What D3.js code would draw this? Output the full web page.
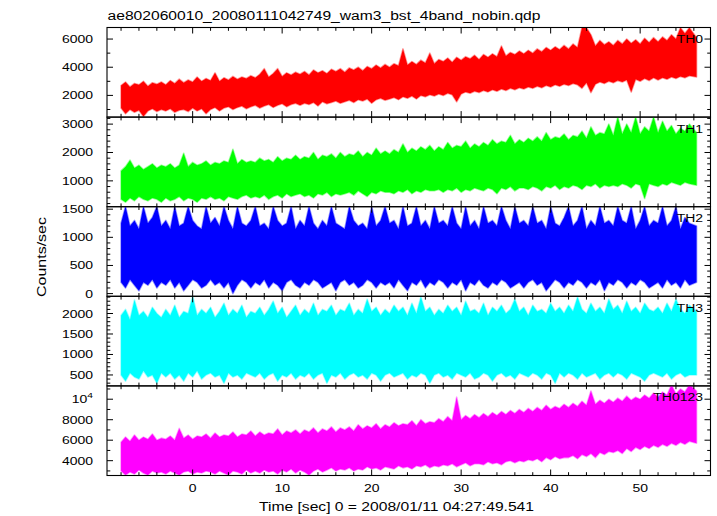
<!DOCTYPE html>
<html><head><meta charset="utf-8">
<script src="https://cdn.jsdelivr.net/npm/d3@7"></script>
<style>
body{margin:0;background:#fff}
svg{display:block}
text{font-family:"Liberation Sans",Arial,Helvetica,sans-serif;fill:#000}
</style>
</head><body>
<svg id="c" width="717" height="516"></svg>
<script>
const titleText = "ae802060010_20080111042749_wam3_bst_4band_nobin.qdp";
const xLabelText = "Time [sec] 0 = 2008/01/11 04:27:49.541";
const yLabelText = "Counts/sec";

const times = [
-8,-7.5,-7,-6.5,-6,-5.5,-5,-4.5,-4,-3.5,
-3,-2.5,-2,-1.5,-1,-0.5,0,0.5,1,1.5,
2,2.5,3,3.5,4,4.5,5,5.5,6,6.5,
7,7.5,8,8.5,9,9.5,10,10.5,11,11.5,
12,12.5,13,13.5,14,14.5,15,15.5,16,16.5,
17,17.5,18,18.5,19,19.5,20,20.5,21,21.5,
22,22.5,23,23.5,24,24.5,25,25.5,26,26.5,
27,27.5,28,28.5,29,29.5,30,30.5,31,31.5,
32,32.5,33,33.5,34,34.5,35,35.5,36,36.5,
37,37.5,38,38.5,39,39.5,40,40.5,41,41.5,
42,42.5,43,43.5,44,44.5,45,45.5,46,46.5,
47,47.5,48,48.5,49,49.5,50,50.5,51,51.5,
52,52.5,53,53.5,54,54.5,55,55.5,56.3];

const th0Hi = [
2700,2950,2600,2850,2750,3000,2650,2900,2800,2950,
2750,3050,2850,3150,2900,3100,2950,3300,3000,3200,
3050,3600,3000,3250,3100,3350,3150,3300,3200,3400,
3250,3500,3900,3300,3550,3900,3350,3600,3450,3650,
3500,3700,3450,3800,3600,3750,3550,3850,3700,3900,
3650,3950,3800,4000,3750,4050,3900,4150,3950,4200,
4000,4250,4100,5300,4150,4400,4200,4500,4300,5000,
4250,4550,4400,4650,4350,4700,4500,4750,4600,4850,
4550,4900,4700,4950,4750,5500,4800,5050,4900,5150,
4950,5200,5000,5300,5100,5400,5200,5450,5250,5550,
5300,5650,5400,6800,6800,6300,5500,5900,5600,5800,
5550,5900,5650,6000,5700,5950,5650,6050,5750,6100,
5800,6150,5900,6300,6000,6800,6400,6800,6100];
const th0Lo = [
1100,700,1000,800,950,500,900,1050,850,1000,
900,1050,800,950,1000,850,1100,900,1050,700,
1000,1150,900,1100,1200,1000,1150,1250,1050,1200,
1300,1100,1250,1350,1150,1300,1400,1200,1350,1450,
1300,1450,1350,1500,1250,1550,1400,1500,1600,1450,
1550,1650,1500,1700,1600,1750,1450,1700,1800,1650,
1750,1850,1700,1900,1800,1950,1750,2000,1900,2050,
1950,2100,2000,2150,2050,1550,2100,2250,2150,2300,
2200,2350,2250,2400,2300,2450,2350,2500,2400,2550,
2450,2600,2500,2650,2550,2700,2600,2750,2650,2800,
2700,2850,2750,2500,2900,2200,2800,2950,2850,3000,
2900,3050,2950,3100,2250,3150,3000,3200,3050,3250,
3100,3250,3150,3300,3200,3350,3250,3400,3300];

const th1Hi = [
1350,1500,1730,1450,1550,1400,1500,1600,1450,1550,
1500,1600,1450,1550,1970,1500,1650,1550,1600,1700,
1550,1650,1600,1700,1650,2110,1600,1750,1650,1700,
1650,1800,1700,1750,1650,1850,1700,1800,1750,1900,
1750,1850,1800,2000,1750,1900,1850,1950,1800,2000,
1850,1950,1900,2050,1850,2000,1900,2150,1950,2050,
1950,2100,2000,2300,2000,2150,2050,2200,2100,2250,
2050,2200,2100,2350,2150,2250,2200,2400,2150,2300,
2200,2350,2250,2450,2300,2400,2350,2600,2300,2450,
2350,2500,2400,2550,2400,2700,2450,2550,2500,2650,
2450,2600,2550,2750,2500,2900,2600,2700,2650,3000,
2600,3250,2650,3000,2700,3250,2650,2900,2750,3250,
2700,3100,2750,2950,2650,2850,2750,3000,2700];
const th1Lo = [
350,250,400,300,450,350,300,400,350,250,
400,300,350,450,300,400,350,250,400,350,
450,350,400,300,450,400,350,450,500,400,
450,400,500,350,450,500,400,550,450,500,
550,450,500,400,550,500,600,450,550,500,
550,600,500,650,550,450,600,550,650,600,
600,550,650,600,700,550,650,600,700,650,
650,700,600,700,650,750,600,700,650,750,
700,650,750,700,550,750,700,800,650,750,
750,700,800,750,650,800,750,850,700,800,
750,850,800,700,850,800,900,750,850,800,
850,800,900,850,750,900,850,380,900,850,
800,900,850,950,900,850,950,900,850];

const th2Hi = [
1250,1550,1200,1300,1150,1550,1250,1350,1550,1200,
1300,1150,1550,1200,1250,1550,1300,1200,1150,1550,
1250,1350,1200,1550,1300,1150,1550,1250,1200,1300,
1550,1200,1250,1150,1550,1300,1200,1250,1550,1150,
1300,1200,1550,1250,1150,1300,1200,1550,1250,1200,
1150,1550,1300,1200,1250,1150,1550,1200,1300,1550,
1250,1300,1150,1550,1200,1250,1550,1200,1300,1150,
1550,1250,1300,1200,1550,1250,1150,1550,1200,1300,
1150,1550,1250,1300,1200,1550,1300,1150,1550,1250,
1300,1200,1550,1250,1300,1150,1550,1250,1200,1350,
1550,1200,1300,1550,1150,1300,1200,1550,1250,1300,
1200,1550,1300,1250,1550,1150,1300,1550,1200,1300,
1250,1550,1200,1300,1550,1150,1350,1250,1200];
const th2Lo = [
200,100,250,150,50,200,150,250,100,200,
150,250,100,200,50,150,250,200,100,150,
250,150,200,100,200,0,150,250,200,100,
200,150,250,100,200,150,50,200,250,150,
100,200,150,250,200,100,150,200,50,200,
250,150,200,100,150,250,200,100,200,150,
200,100,250,150,50,200,150,250,100,200,
150,250,200,100,200,150,250,50,200,150,
250,150,100,200,150,250,200,100,150,200,
100,200,250,150,200,50,150,250,200,100,
200,150,250,200,100,200,150,250,50,200,
150,250,200,100,200,150,250,200,100,150,
200,100,250,150,200,100,250,150,200];

const th3Hi = [
1950,2100,1850,2330,1950,2050,1900,2150,2000,1900,
2100,1950,2200,1900,2050,2000,2420,1950,2100,2000,
2150,1900,2050,2250,1950,2100,2000,2200,1900,2050,
2000,2150,1950,2100,2300,2000,2150,1900,2050,2200,
1950,2100,2000,2250,1950,2100,2050,2200,1950,2100,
2050,2250,1950,2100,2000,2350,2050,2150,1950,2100,
2000,2200,2050,2150,1950,2250,2000,2400,2050,2150,
1950,2100,2000,2200,2050,2150,1950,2300,2050,2100,
2000,2250,1950,2150,2050,2200,2000,2100,2350,2050,
2150,1950,2200,2050,2100,2000,2250,2050,2150,2000,
2200,2050,2400,2100,2000,2250,2050,2150,2000,2350,
2100,2200,2000,2300,2050,2150,2000,2250,2100,2050,
2150,2000,2250,2050,2350,2100,2000,2200,2050];
const th3Lo = [
500,350,550,450,400,600,450,500,300,550,
450,550,400,500,350,550,450,600,400,500,
550,450,500,300,550,450,500,400,550,500,
450,550,400,500,550,350,500,450,550,400,
500,450,550,400,500,550,300,500,450,550,
400,500,550,450,500,400,550,500,350,500,
550,450,500,550,400,500,450,550,500,300,
500,550,450,500,400,550,500,450,550,400,
450,550,500,350,500,550,450,500,400,550,
500,450,550,500,400,550,500,300,550,450,
550,500,400,550,450,500,550,400,500,550,
450,550,500,400,550,500,450,350,500,550,
500,450,550,400,500,550,450,500,500];

const thAllHi = [
5800,6300,5900,6500,6000,6300,6100,6600,6000,6200,
6100,6400,6000,7150,6200,6500,6100,6400,6300,6600,
6200,6700,6300,6500,6400,6800,6300,6600,6500,6900,
6400,6800,6500,6700,6600,7100,6500,6900,6700,7000,
6600,7000,6800,7200,6700,7100,6900,7300,6800,7200,
7000,7300,6900,7500,7100,7400,7200,7600,7100,7500,
7300,7700,7400,7600,7500,7900,7400,8000,7600,7800,
7700,8100,7800,8300,7900,10200,8000,8400,8100,8500,
8200,8600,8300,8700,8400,8800,8500,8900,8600,9000,
8700,9100,8800,9200,8900,9400,9000,9300,9100,9500,
9200,9600,9300,9800,9400,10800,9500,9900,9600,10000,
9700,10100,9800,10300,9900,10200,10000,10400,10100,10600,
10200,10700,10400,11400,10500,11000,10700,11400,10800];
const thAllLo = [
3000,2600,2900,2700,3100,2800,2600,3000,2800,2900,
2700,3000,2800,2600,2900,3000,2700,2900,2800,3000,
2900,2700,3000,2800,2600,3000,2900,2700,3100,2800,
3000,2800,3100,2900,3000,2700,3100,2900,3200,2800,
3100,2900,2600,3000,3200,2900,3100,3300,3000,3200,
3100,3300,3000,3200,3100,3400,3200,3300,3100,3400,
3300,3200,3500,3300,3400,3200,3500,3400,3600,3300,
3500,3400,3600,3500,3700,3400,3600,3800,3500,3700,
3700,3600,3900,3700,3800,3600,3900,4000,3800,4000,
3900,4100,4000,4200,3900,4300,4100,4400,4200,4300,
4300,4500,4200,4600,4400,4700,4300,4800,4600,4900,
4800,5000,4700,5200,4900,5300,5100,5400,5200,5500,
5300,5600,5400,5700,5500,5800,5600,5900,5700];

const panelNames = ["TH0","TH1","TH2","TH3","TH0123"];
const panelColors = ["#ff0000","#00ff00","#0000ff","#00ffff","#ff00ff"];
const hiSeries = [th0Hi, th1Hi, th2Hi, th3Hi, thAllHi];
const loSeries = [th0Lo, th1Lo, th2Lo, th3Lo, thAllLo];
const yDomains = [[460,6820],[90,3247],[-48,1544],[233,2420],[2554,11300]];
const yMajor = [[2000,4000,6000],[1000,2000,3000],[0,500,1000,1500],[500,1000,1500,2000],[4000,6000,8000,10000]];
const yTickLabels = [["2000","4000","6000"],["1000","2000","3000"],["0","500","1000","1500"],["500","1000","1500","2000"],["4000","6000","8000","10^4"]];
const yMinorStep = [1000,200,100,100,1000];
const xDomain = [-9.57, 57.86];
const xMajor = [0,10,20,30,40,50];
const xTickLabels = ["0","10","20","30","40","50"];
const xMinorStep = 2;

(function draw() {
const svg = d3.select("#c");
const pLeft = 107, pRight = 710.5, pTop = 27.5, panelH = 89.6;
const FS = 11, SX = 1.27;

const x = d3.scaleLinear().domain(xDomain).range([pLeft, pRight]);

function stext(g, px, py, str, anchor) {
  return g.append("text")
    .attr("transform", `translate(${px},${py}) scale(${SX},1)`)
    .attr("text-anchor", anchor)
    .attr("font-size", FS)
    .text(str);
}

const xMinor = d3.range(Math.ceil(xDomain[0]/xMinorStep)*xMinorStep, xDomain[1], xMinorStep);

panelNames.forEach((name, i) => {
  const y0 = pTop + i*panelH, y1 = y0 + panelH;
  const y = d3.scaleLinear().domain(yDomains[i]).range([y1, y0]);
  const g = svg.append("g");
  const cid = "clip" + i;
  svg.append("clipPath").attr("id", cid).append("rect")
    .attr("x", pLeft).attr("y", y0).attr("width", pRight-pLeft).attr("height", panelH);

  const area = d3.area()
    .x((d, j) => x(times[j]))
    .y0((d, j) => y(loSeries[i][j]))
    .y1((d, j) => y(hiSeries[i][j]));
  g.append("path")
    .datum(times)
    .attr("clip-path", `url(#${cid})`)
    .attr("d", area)
    .attr("fill", panelColors[i])
    .attr("stroke", panelColors[i])
    .attr("stroke-opacity", 0.4)
    .attr("stroke-width", 1.6)
    .attr("stroke-linejoin", "round");

  g.append("rect").attr("x", pLeft).attr("y", y0).attr("width", pRight-pLeft).attr("height", panelH)
    .attr("fill", "none").attr("stroke", "#000").attr("stroke-width", 1.1);

  const tickG = g.append("g").attr("stroke", "#000").attr("stroke-width", 1);
  xMinor.forEach(t => {
    const major = xMajor.includes(t);
    const L = major ? 6 : 3.3;
    tickG.append("line").attr("x1", x(t)).attr("x2", x(t)).attr("y1", y0).attr("y2", y0 + L);
    tickG.append("line").attr("x1", x(t)).attr("x2", x(t)).attr("y1", y1).attr("y2", y1 - L);
  });
  const d = yDomains[i], st = yMinorStep[i];
  d3.range(Math.ceil(d[0]/st)*st, d[1] + 1e-9, st).forEach(v => {
    const major = yMajor[i].includes(v);
    const L = major ? 6 : 3.3;
    tickG.append("line").attr("x1", pLeft).attr("x2", pLeft + L).attr("y1", y(v)).attr("y2", y(v));
    tickG.append("line").attr("x1", pRight).attr("x2", pRight - L).attr("y1", y(v)).attr("y2", y(v));
  });
  yMajor[i].forEach((v, k) => {
    const lab = yTickLabels[i][k];
    if (lab.includes("^")) {
      const [b, e] = lab.split("^");
      const t = stext(g, 93, y(v) + 4, b, "end");
      t.append("tspan").attr("dy", -5).attr("font-size", 8).text(e);
    } else {
      stext(g, 93, y(v) + 4, lab, "end");
    }
  });
  stext(g, 703, y0 + 15.5, name, "end");
});

xMajor.forEach((t, k) => stext(svg, x(t), 492, xTickLabels[k], "middle"));

svg.append("text").attr("x", 107.5).attr("y", 20).attr("font-size", 12)
  .attr("textLength", 433).attr("lengthAdjust", "spacingAndGlyphs").text(titleText);
svg.append("text").attr("x", 259).attr("y", 511).attr("font-size", 12)
  .attr("textLength", 275).attr("lengthAdjust", "spacingAndGlyphs").text(xLabelText);
svg.append("text").attr("transform", "translate(46,297) rotate(-90)").attr("font-size", 12)
  .attr("textLength", 80).attr("lengthAdjust", "spacingAndGlyphs").text(yLabelText);
})();
</script>
</body></html>
